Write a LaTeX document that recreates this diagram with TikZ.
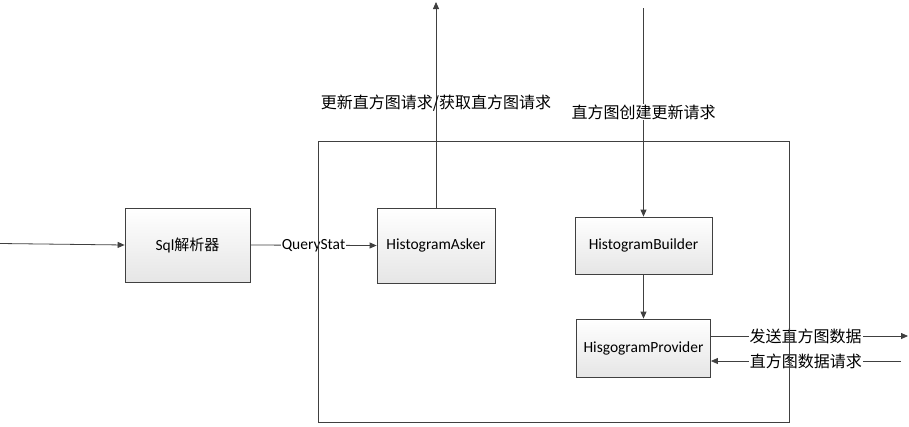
\documentclass[tikz,border=0pt]{standalone}
\usepackage{fontspec}
\setmainfont{Carlito}
\newfontfamily\cjk{Noto Sans CJK SC}
\usetikzlibrary{arrows.meta,positioning}
\begin{document}
\begin{tikzpicture}[x=1pt,y=-1pt,
  line/.style={draw=black!75,line width=0.8pt},
  arr/.style={line,-{Triangle[length=7pt,width=6pt]}},
  block/.style={draw=black!75,line width=0.8pt,top color=white,bottom color=black!10,
    font=\fontsize{15.5}{18}\selectfont,inner sep=0pt},
  lbl/.style={fill=white,inner sep=1pt,font=\cjk\fontsize{16}{18}\selectfont},
  lblnf/.style={inner sep=1pt,font=\cjk\fontsize{16}{18}\selectfont}]
\useasboundingbox (0,0) rectangle (909,426);
% container
\coordinate (cNW) at (318,141);
\coordinate (cSE) at (789,422);
% blocks
\node[block,minimum width=125pt,minimum height=74pt] (sql) at (187.5,245) {Sql{\cjk\fontsize{15}{18}\selectfont 解析器}};
\node[block,minimum width=118pt,minimum height=75pt] (asker) at (436,245.5) {HistogramAsker};
\node[block,minimum width=137pt,minimum height=57pt] (builder) at (643.5,245.5) {HistogramBuilder};
\node[block,minimum width=134pt,minimum height=58pt] (provider) at (643.5,348) {HisgogramProvider};
% free ends
\coordinate (inL) at (0,243.5);
\coordinate (askTop) at (436,2);
\coordinate (bldTop) at (643.5,8);
\coordinate (outR) at (908,336);
\coordinate (inR) at (901,361);
% connectors
\draw[arr] (inL) -- (sql.west |- 0,245);
\draw[arr] (sql.east) -- node[lbl,font=\fontsize{15.5}{18}\selectfont,inner sep=0.5pt] (qs) {QueryStat} (asker.west);
\draw[arr] (asker.north) -- (askTop);
\node[lblnf] (askLbl) at (436,103) {更新直方图请求/获取直方图请求};
\draw[arr] (bldTop) -- (builder.north);
\node[lbl] (bldLbl) at (643.5,112) {直方图创建更新请求};
\draw[arr] (builder.south) -- (provider.north);
\draw[arr] (provider.east |- outR) -- node[lbl,pos=0.48] (outLbl) {发送直方图数据} (outR);
\draw[arr] (inR) -- node[lbl,pos=0.5] (inLbl) {直方图数据请求} (provider.east |- inR);
% container border on top
\draw[line] (cNW) rectangle (cSE);
\end{tikzpicture}
\end{document}
